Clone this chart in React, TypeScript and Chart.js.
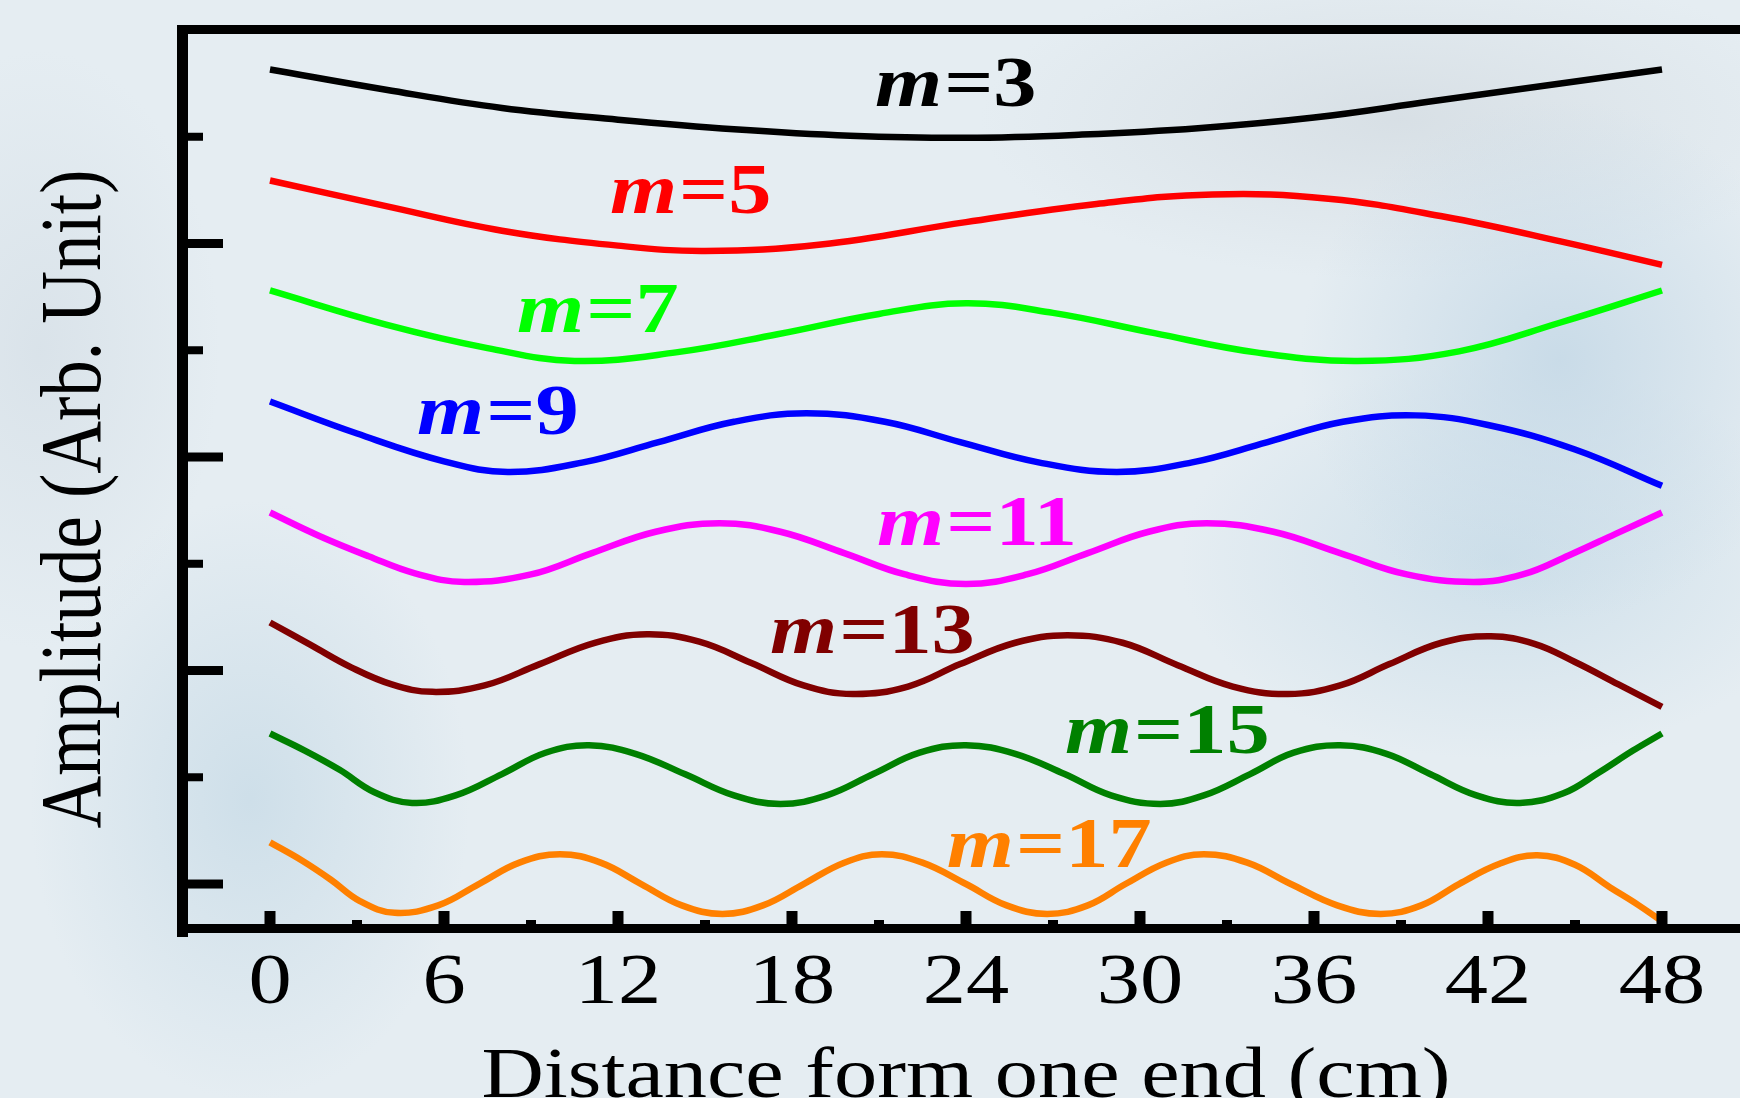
import { useEffect, useRef } from 'react';
import { Chart, registerables } from 'chart.js';

Chart.register(...registerables);

const W = 1740;
const H = 1098;

// ---- data (x in cm, y in arbitrary units) ----
const m3X = [0, 4, 8, 12, 16, 20, 24, 28, 32, 36, 40, 44, 48];
const m3Y = [7.63, 7.44, 7.27, 7.16, 7.07, 7.01, 6.99, 7.02, 7.08, 7.18, 7.33, 7.48, 7.63];

const m5X = [0, 4, 8, 12, 15, 19, 24, 28.5, 32.5, 36.5, 40.5, 44.5, 48];
const m5Y = [6.59, 6.35, 6.12, 5.98, 5.93, 5.99, 6.2, 6.37, 6.46, 6.42, 6.25, 6.02, 5.8];

const m7X = [0, 4, 7.5, 10.5, 14, 17.5, 21, 24, 27, 30.5, 34, 37.5, 41, 44.5, 48];
const m7Y = [5.56, 5.24, 5.02, 4.9, 4.98, 5.15, 5.34, 5.44, 5.35, 5.16, 4.98, 4.9, 4.99, 5.26, 5.56];

const m9X = [0, 3, 6, 8.2, 10.8, 13.4, 16, 18.5, 21.2, 23.8, 26.5, 29.2, 31.8, 34.4, 37, 39.5, 42, 45, 48];
const m9Y = [4.52, 4.22, 3.96, 3.86, 3.95, 4.14, 4.33, 4.41, 4.33, 4.14, 3.95, 3.86, 3.95, 4.14, 4.33, 4.39, 4.3, 4.07, 3.73];

const m11X = [0, 1.7, 3.4, 5, 6.7, 9, 11.1, 13.3, 15.5, 17.6, 19.8, 21.9, 24, 26.1, 28.2, 30.3, 32.3, 34.6, 36.9, 39.2, 41.5, 43.2, 44.8, 46.4, 48];
const m11Y = [3.48, 3.26, 3.07, 2.91, 2.83, 2.9, 3.1, 3.3, 3.38, 3.3, 3.1, 2.9, 2.81, 2.9, 3.1, 3.3, 3.38, 3.3, 3.1, 2.9, 2.83, 2.9, 3.08, 3.28, 3.48];

const m13X = [0, 1.4, 2.8, 4.2, 5.6, 7.4, 9.3, 11.2, 13, 14.8, 16.6, 18.4, 20.1, 22, 23.8, 25.7, 27.5, 29.4, 31.3, 33.2, 35.1, 36.9, 38.6, 40.4, 42.1, 43.6, 45, 46.5, 48];
const m13Y = [2.45, 2.24, 2.03, 1.87, 1.8, 1.86, 2.06, 2.26, 2.34, 2.27, 2.07, 1.86, 1.78, 1.85, 2.06, 2.26, 2.33, 2.26, 2.05, 1.85, 1.78, 1.86, 2.06, 2.26, 2.32, 2.25, 2.08, 1.87, 1.66];

const m15X = [0, 1.2, 2.4, 3.6, 4.9, 6.4, 8, 9.5, 11, 12.6, 14.3, 16, 17.6, 19.2, 20.8, 22.4, 24, 25.7, 27.4, 29, 30.7, 32.2, 33.8, 35.3, 36.9, 38.5, 40, 41.6, 43.1, 44.6, 45.8, 47, 48];
const m15Y = [1.41, 1.25, 1.07, 0.86, 0.76, 0.83, 1.03, 1.23, 1.3, 1.22, 1.03, 0.83, 0.75, 0.83, 1.03, 1.23, 1.3, 1.22, 1.03, 0.83, 0.75, 0.83, 1.03, 1.23, 1.3, 1.22, 1.03, 0.83, 0.76, 0.85, 1.04, 1.25, 1.41];

const m17X = [0, 1.1, 2.1, 3.1, 4.3, 5.8, 7.2, 8.6, 10, 11.4, 12.8, 14.2, 15.6, 17, 18.4, 19.8, 21.1, 22.5, 24, 25.4, 26.8, 28.2, 29.5, 30.9, 32.2, 33.7, 35.2, 36.8, 38.3, 39.7, 41, 42.4, 43.7, 45, 46.2, 47.2, 48];
const m17Y = [0.39, 0.22, 0.04, -0.16, -0.27, -0.2, 0.0, 0.2, 0.28, 0.2, 0.0, -0.2, -0.28, -0.2, 0.0, 0.2, 0.28, 0.2, 0.0, -0.2, -0.28, -0.2, 0.0, 0.2, 0.28, 0.2, 0.0, -0.2, -0.28, -0.2, 0.0, 0.19, 0.27, 0.18, -0.03, -0.2, -0.35];

const modeNames = ['3', '5', '7', '9', '11', '13', '15', '17'];
const modeColors = ['#000000', '#ff0000', '#00ff00', '#0000ff', '#ff00ff', '#800000', '#008000', '#ff8000'];
const seriesX = [m3X, m5X, m7X, m9X, m11X, m13X, m15X, m17X];
const seriesY = [m3Y, m5Y, m7Y, m9Y, m11Y, m13Y, m15Y, m17Y];

// label anchors (data coordinates: left edge x in cm, baseline y)
const labelX = [20.86, 11.72, 8.52, 5.07, 20.93, 17.24, 27.41, 23.34];
const labelY = [7.29, 6.29, 5.17, 4.22, 3.18, 2.16, 1.23, 0.16];

const xMajorTicks = [0, 6, 12, 18, 24, 30, 36, 42, 48];
const xMinorTicks = [3, 9, 15, 21, 27, 33, 39, 45];
const yLongTicks = [0, 2, 4, 6];
const yShortTicks = [1, 3, 5, 7];

const xTitle = 'Distance form one end (cm)';
const yTitle = 'Amplitude (Arb. Unit)';

const SERIF = '"Liberation Serif", "Times New Roman", serif';
const STRETCH = 1.2;

function stretchedText(ctx: CanvasRenderingContext2D, text: string, x: number, y: number, font: string, align: CanvasTextAlign) {
  ctx.save();
  ctx.font = font;
  ctx.textAlign = align;
  ctx.textBaseline = 'alphabetic';
  ctx.translate(x, y);
  ctx.scale(STRETCH, 1);
  ctx.fillText(text, 0, 0);
  ctx.restore();
}

const framePlugin = {
  id: 'framePlugin',
  afterDatasetsDraw(chart: any) {
    const ctx: CanvasRenderingContext2D = chart.ctx;
    const xs = chart.scales.x;
    const ys = chart.scales.y;
    const ca = chart.chartArea;
    ctx.save();
    ctx.fillStyle = '#000';
    // frame
    ctx.fillRect(ca.left - 6, ca.top - 5, 11, ca.bottom - ca.top + 14);
    ctx.fillRect(ca.left - 1, ca.top - 5, W - ca.left + 1, 9);
    ctx.fillRect(ca.left - 6, ca.bottom - 4, W - ca.left + 6, 9);
    // x ticks
    for (const v of xMajorTicks) {
      const px = xs.getPixelForValue(v);
      ctx.fillRect(px - 5.5, ca.bottom - 17, 11, 14);
    }
    for (const v of xMinorTicks) {
      const px = xs.getPixelForValue(v);
      ctx.fillRect(px - 5, ca.bottom - 8, 10, 5);
    }
    // y ticks
    for (const v of yLongTicks) {
      const py = ys.getPixelForValue(v);
      ctx.fillRect(ca.left + 4, py - 4.5, 36, 9);
    }
    for (const v of yShortTicks) {
      const py = ys.getPixelForValue(v);
      ctx.fillRect(ca.left + 4, py - 4, 16, 8);
    }
    // tick labels
    for (const v of xMajorTicks) {
      const px = xs.getPixelForValue(v);
      stretchedText(ctx, String(v), px, ca.bottom + 75, `72px ${SERIF}`, 'center');
    }
    // axis titles
    stretchedText(ctx, xTitle, xs.getPixelForValue(24), ca.bottom + 169, `72px ${SERIF}`, 'center');
    ctx.save();
    ctx.font = `73px ${SERIF}`;
    ctx.textAlign = 'center';
    ctx.textBaseline = 'alphabetic';
    ctx.translate(100, 499);
    ctx.scale(STRETCH, 1);
    ctx.rotate(-Math.PI / 2);
    ctx.fillText(yTitle, 0, 0);
    ctx.restore();
    // curve labels
    for (let i = 0; i < modeNames.length; i++) {
      const lx = xs.getPixelForValue(labelX[i]);
      const ly = ys.getPixelForValue(labelY[i]);
      ctx.fillStyle = modeColors[i];
      const fm = `italic bold 72px ${SERIF}`;
      ctx.font = fm;
      const wm = ctx.measureText('m').width * STRETCH;
      stretchedText(ctx, 'm', lx, ly, fm, 'left');
      stretchedText(ctx, '=' + modeNames[i], lx + wm + 2, ly, `bold 72px ${SERIF}`, 'left');
    }
    ctx.restore();
  },
};

export default function App() {
  const ref = useRef<HTMLCanvasElement | null>(null);
  useEffect(() => {
    if (!ref.current) return;
    const datasets = seriesX.map((xsArr, i) => ({
      label: 'm=' + modeNames[i],
      data: xsArr.map((x, j) => ({ x, y: seriesY[i][j] })),
      borderColor: modeColors[i],
      backgroundColor: modeColors[i],
      borderWidth: 6.5,
      pointRadius: 0,
      fill: false,
      tension: 0.4,
    }));
    const chart = new Chart(ref.current, {
      type: 'line',
      data: { datasets },
      options: {
        responsive: false,
        animation: false,
        devicePixelRatio: 1,
        layout: { padding: { left: 183, top: 30, right: 0, bottom: 170 } },
        plugins: { legend: { display: false }, tooltip: { enabled: false } },
        scales: {
          x: { type: 'linear', min: -3, max: 50.69, display: false },
          y: { type: 'linear', min: -0.412, max: 8, display: false },
        },
      },
      plugins: [framePlugin],
    });
    return () => chart.destroy();
  }, []);

  const bg = [
    'radial-gradient(ellipse 260px 260px at 1560px 360px, rgba(196,216,230,0.85), rgba(196,216,230,0) 100%)',
    'radial-gradient(ellipse 320px 200px at 1500px 560px, rgba(200,220,232,0.8), rgba(200,220,232,0) 100%)',
    'radial-gradient(ellipse 220px 300px at 250px 800px, rgba(198,218,230,0.75), rgba(198,218,230,0) 100%)',
    'radial-gradient(ellipse 420px 160px at 1400px 120px, rgba(210,218,224,0.7), rgba(210,218,224,0) 100%)',
    'radial-gradient(ellipse 180px 300px at 40px 350px, rgba(210,220,228,0.6), rgba(210,220,228,0) 100%)',
  ].join(', ');

  return (
    <div
      style={{
        position: 'fixed',
        left: 0,
        top: 0,
        width: W,
        height: H,
        overflow: 'hidden',
        backgroundColor: '#e5edf2',
        backgroundImage: bg,
      }}
    >
      <canvas ref={ref} width={W} height={H} style={{ width: W, height: H, display: 'block' }} />
    </div>
  );
}
